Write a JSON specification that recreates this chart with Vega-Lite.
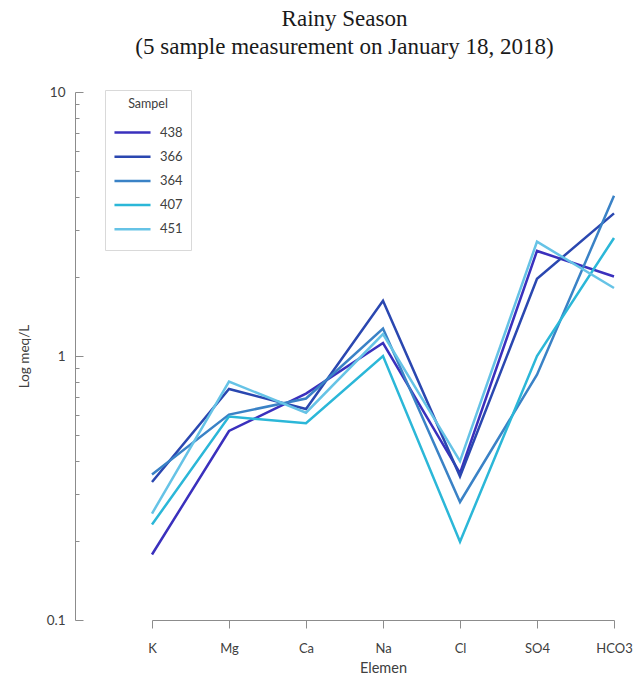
{
  "$schema": "https://vega.github.io/schema/vega-lite/v6.json",
  "width": 539,
  "height": 528,
  "autosize": {"type": "none"},
  "padding": {"left": 75, "top": 92, "right": 19, "bottom": 59},
  "title": {
    "text": ["Rainy Season", "(5 sample measurement on January 18, 2018)"],
    "font": "Liberation Serif",
    "fontSize": 23,
    "fontWeight": "normal",
    "color": "#1a1a1a",
    "lineHeight": 28,
    "anchor": "middle",
    "frame": "group",
    "offset": 26
  },
  "data": {
    "values": [
      {"Sampel": "438", "Elemen": "K", "value": 0.177},
      {"Sampel": "438", "Elemen": "Mg", "value": 0.52},
      {"Sampel": "438", "Elemen": "Ca", "value": 0.72},
      {"Sampel": "438", "Elemen": "Na", "value": 1.12},
      {"Sampel": "438", "Elemen": "Cl", "value": 0.36},
      {"Sampel": "438", "Elemen": "SO4", "value": 2.5},
      {"Sampel": "438", "Elemen": "HCO3", "value": 2.0},
      {"Sampel": "366", "Elemen": "K", "value": 0.333},
      {"Sampel": "366", "Elemen": "Mg", "value": 0.75},
      {"Sampel": "366", "Elemen": "Ca", "value": 0.63},
      {"Sampel": "366", "Elemen": "Na", "value": 1.62},
      {"Sampel": "366", "Elemen": "Cl", "value": 0.35},
      {"Sampel": "366", "Elemen": "SO4", "value": 1.96},
      {"Sampel": "366", "Elemen": "HCO3", "value": 3.47},
      {"Sampel": "364", "Elemen": "K", "value": 0.356},
      {"Sampel": "364", "Elemen": "Mg", "value": 0.6},
      {"Sampel": "364", "Elemen": "Ca", "value": 0.69},
      {"Sampel": "364", "Elemen": "Na", "value": 1.27},
      {"Sampel": "364", "Elemen": "Cl", "value": 0.28},
      {"Sampel": "364", "Elemen": "SO4", "value": 0.85},
      {"Sampel": "364", "Elemen": "HCO3", "value": 4.05},
      {"Sampel": "407", "Elemen": "K", "value": 0.23},
      {"Sampel": "407", "Elemen": "Mg", "value": 0.59},
      {"Sampel": "407", "Elemen": "Ca", "value": 0.556},
      {"Sampel": "407", "Elemen": "Na", "value": 1.0},
      {"Sampel": "407", "Elemen": "Cl", "value": 0.198},
      {"Sampel": "407", "Elemen": "SO4", "value": 1.0},
      {"Sampel": "407", "Elemen": "HCO3", "value": 2.8},
      {"Sampel": "451", "Elemen": "K", "value": 0.253},
      {"Sampel": "451", "Elemen": "Mg", "value": 0.8},
      {"Sampel": "451", "Elemen": "Ca", "value": 0.61},
      {"Sampel": "451", "Elemen": "Na", "value": 1.21},
      {"Sampel": "451", "Elemen": "Cl", "value": 0.4},
      {"Sampel": "451", "Elemen": "SO4", "value": 2.71},
      {"Sampel": "451", "Elemen": "HCO3", "value": 1.81}
    ]
  },
  "mark": {"type": "line", "strokeWidth": 2.5},
  "encoding": {
    "x": {
      "field": "Elemen",
      "type": "ordinal",
      "sort": ["K", "Mg", "Ca", "Na", "Cl", "SO4", "HCO3"],
      "scale": {"type": "point", "range": [77, 539], "padding": 0},
      "axis": {
        "title": "Elemen",
        "labelAngle": 0,
        "labelFontSize": 13,
        "labelColor": "#404040",
        "labelPadding": 14,
        "tickSize": 8,
        "tickColor": "#8c8c8c",
        "domainColor": "#8c8c8c",
        "titleFontSize": 14.5,
        "titleFontWeight": "normal",
        "titleColor": "#404040",
        "titlePadding": 6,
        "grid": false
      }
    },
    "y": {
      "field": "value",
      "type": "quantitative",
      "scale": {"type": "log", "domain": [0.1, 10], "nice": false},
      "axis": {
        "title": "Log meq/L",
        "values": [0.1, 0.2, 0.3, 0.4, 0.5, 0.6, 0.7, 0.8, 0.9, 1, 2, 3, 4, 5, 6, 7, 8, 9, 10],
        "labelExpr": "datum.value == 0.1 ? '0.1' : datum.value == 1 ? '1' : datum.value == 10 ? '10' : ''",
        "tickSize": {"condition": {"test": "datum.value == 0.1 || datum.value == 1 || datum.value == 10", "value": -8}, "value": -4},
        "labelPadding": 18,
        "labelFontSize": 13.5,
        "labelColor": "#404040",
        "tickColor": "#8c8c8c",
        "domainColor": "#8c8c8c",
        "titleFontSize": 13.5,
        "titleFontWeight": "normal",
        "titleColor": "#404040",
        "titlePadding": 15,
        "grid": false
      }
    },
    "color": {
      "field": "Sampel",
      "type": "nominal",
      "sort": ["438", "366", "364", "407", "451"],
      "scale": {
        "domain": ["438", "366", "364", "407", "451"],
        "range": ["#3a30bd", "#2a47b0", "#3a82c6", "#2bb7d8", "#66c3e6"]
      },
      "legend": {
        "orient": "none",
        "legendX": 30,
        "legendY": -2,
        "title": "Sampel",
        "titleFontSize": 12.5,
        "titleFontWeight": "normal",
        "titleColor": "#404040",
        "titleAnchor": "middle",
        "titleAlign": "center",
        "titlePadding": 10,
        "symbolType": "stroke",
        "symbolSize": 1300,
        "symbolStrokeWidth": 2.5,
        "labelFontSize": 13,
        "labelColor": "#404040",
        "labelOffset": 8,
        "clipHeight": 24,
        "rowPadding": 0.2,
        "padding": 8,
        "strokeColor": "#d9d9d9",
        "fillColor": "white"
      }
    }
  },
  "config": {
    "view": {"stroke": null},
    "font": "Lato"
  }
}
